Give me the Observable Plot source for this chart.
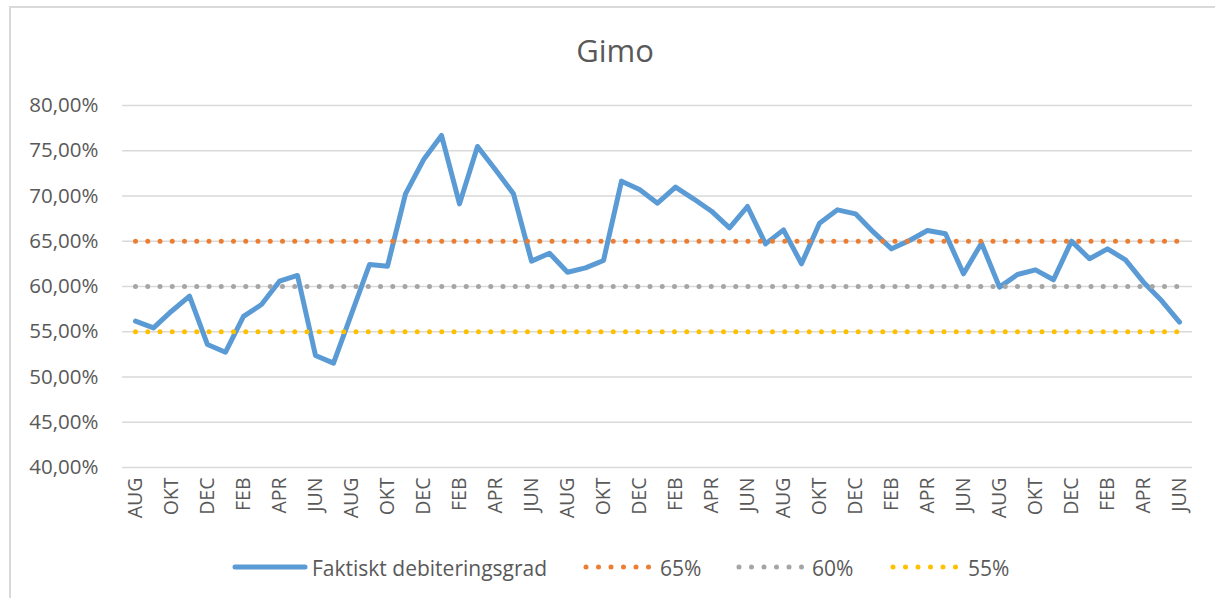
<!DOCTYPE html>
<html>
<head>
<meta charset="utf-8">
<script src="https://cdn.jsdelivr.net/npm/d3@7"></script>
<script src="https://cdn.jsdelivr.net/npm/@observablehq/plot@0.6"></script>
<style>
  html, body { margin: 0; padding: 0; background: #fff; overflow: hidden; }
  body { width: 1215px; height: 598px; position: relative; font-family: "Open Sans", sans-serif; color: #595959; }
  #frame { position: absolute; left: 9px; top: 6px; width: 1230px; height: 620px; border-left: 2px solid #d9d9d9; border-top: 2px solid #d9d9d9; }
  #title { position: absolute; left: 0; width: 1230px; top: 30px; text-align: center; font-size: 31px; line-height: 40px; }
  #chart { position: absolute; left: 0; top: 80px; }
  .leg { position: absolute; top: 554px; font-size: 21px; line-height: 28px; white-space: nowrap; }
  .sw { position: absolute; top: 556px; }
</style>
</head>
<body>
<div id="frame"></div>
<div id="title">Gimo</div>
<div id="chart"></div>
<div id="legend"></div>
<script>
const monthLabels = [
  "AUG","SEP","OKT","NOV","DEC","JAN","FEB","MAR","APR","MAJ","JUN","JUL",
  "AUG","SEP","OKT","NOV","DEC","JAN","FEB","MAR","APR","MAJ","JUN","JUL",
  "AUG","SEP","OKT","NOV","DEC","JAN","FEB","MAR","APR","MAJ","JUN","JUL",
  "AUG","SEP","OKT","NOV","DEC","JAN","FEB","MAR","APR","MAJ","JUN","JUL",
  "AUG","SEP","OKT","NOV","DEC","JAN","FEB","MAR","APR","MAJ","JUN"
];
const values = [
  56.17, 55.43, 57.27, 58.93, 53.59, 52.74, 56.70, 58.01, 60.59, 61.22,
  52.38, 51.53, 56.98, 62.43, 62.25, 70.24, 74.00, 76.69, 69.13, 75.47,
  72.90, 70.24, 62.80, 63.68, 61.58, 62.06, 62.87, 71.64, 70.72, 69.21,
  70.98, 69.69, 68.32, 66.48, 68.84, 64.71, 66.26, 62.51, 67.00, 68.47,
  68.03, 66.00, 64.16, 65.08, 66.19, 65.82, 61.40, 64.79, 59.93, 61.33,
  61.84, 60.74, 65.01, 63.06, 64.16, 62.94, 60.48, 58.45, 56.06
];
const seriesName = "Faktiskt debiteringsgrad";
const targets = [65, 60, 55];
const targetNames = ["65%", "60%", "55%"];
const targetColors = ["#ED7D31", "#A5A5A5", "#FFC000"];
const lineColor = "#5B9BD5";
const yTicks = [40, 45, 50, 55, 60, 65, 70, 75, 80];

const idx = d3.range(values.length);
const targetRows = targets.flatMap((t, k) => idx.map(i => ({i, v: t, k})));

const chart = Plot.plot({
  width: 1215,
  height: 460,
  marginLeft: 122,
  marginRight: 23,
  marginTop: 25,
  marginBottom: 73,
  style: {fontFamily: "Open Sans", color: "#595959", background: "transparent", overflow: "visible"},
  x: {type: "point", domain: idx, padding: 0.5},
  y: {domain: [40, 80]},
  marks: [
    Plot.ruleY(yTicks, {stroke: "#d9d9d9", strokeWidth: 1.3}),
    Plot.axisY({ticks: yTicks, tickSize: 0, tickPadding: 24, fontSize: 20.5, fill: "#595959",
      tickFormat: d => d.toFixed(2).replace(".", ",") + "%", label: null}),
    Plot.axisX({ticks: idx.filter(i => i % 2 === 0), tickSize: 0, tickPadding: 10, tickRotate: -90,
      fontSize: 19.5, fill: "#595959", tickFormat: i => monthLabels[i], label: null}),
    Plot.line(idx, {x: i => i, y: i => values[i], stroke: lineColor, strokeWidth: 5, strokeLinejoin: "round", strokeLinecap: "round"}),
    ...targets.map((t, k) => Plot.line(targetRows.filter(r => r.k === k), {
      x: "i", y: "v", stroke: targetColors[k], strokeWidth: 5,
      strokeDasharray: "0 12.25", strokeLinecap: "round"
    }))
  ]
});
document.getElementById("chart").appendChild(chart);

// Legend
const legend = document.getElementById("legend");
const items = [
  {type: "line", color: lineColor, name: seriesName, x0: 235, x1: 305, tx: 312},
  {type: "dots", color: targetColors[0], name: targetNames[0], x0: 586, x1: 650, tx: 660},
  {type: "dots", color: targetColors[1], name: targetNames[1], x0: 739, x1: 803, tx: 812},
  {type: "dots", color: targetColors[2], name: targetNames[2], x0: 893, x1: 957, tx: 968}
];
for (const it of items) {
  const svg = d3.create("svg").attr("class", "sw")
    .attr("width", it.x1 - it.x0 + 10).attr("height", 24)
    .style("left", (it.x0 - 5) + "px");
  if (it.type === "line") {
    svg.append("line").attr("x1", 5).attr("x2", it.x1 - it.x0 + 5).attr("y1", 11).attr("y2", 11)
      .attr("stroke", it.color).attr("stroke-width", 5).attr("stroke-linecap", "round");
  } else {
    svg.append("line").attr("x1", 5).attr("x2", it.x1 - it.x0 + 5).attr("y1", 11).attr("y2", 11)
      .attr("stroke", it.color).attr("stroke-width", 5).attr("stroke-linecap", "round")
      .attr("stroke-dasharray", "0 12.5");
  }
  legend.appendChild(svg.node());
  const t = document.createElement("div");
  t.className = "leg";
  t.style.left = it.tx + "px";
  t.textContent = it.name;
  legend.appendChild(t);
}
</script>
</body>
</html>
